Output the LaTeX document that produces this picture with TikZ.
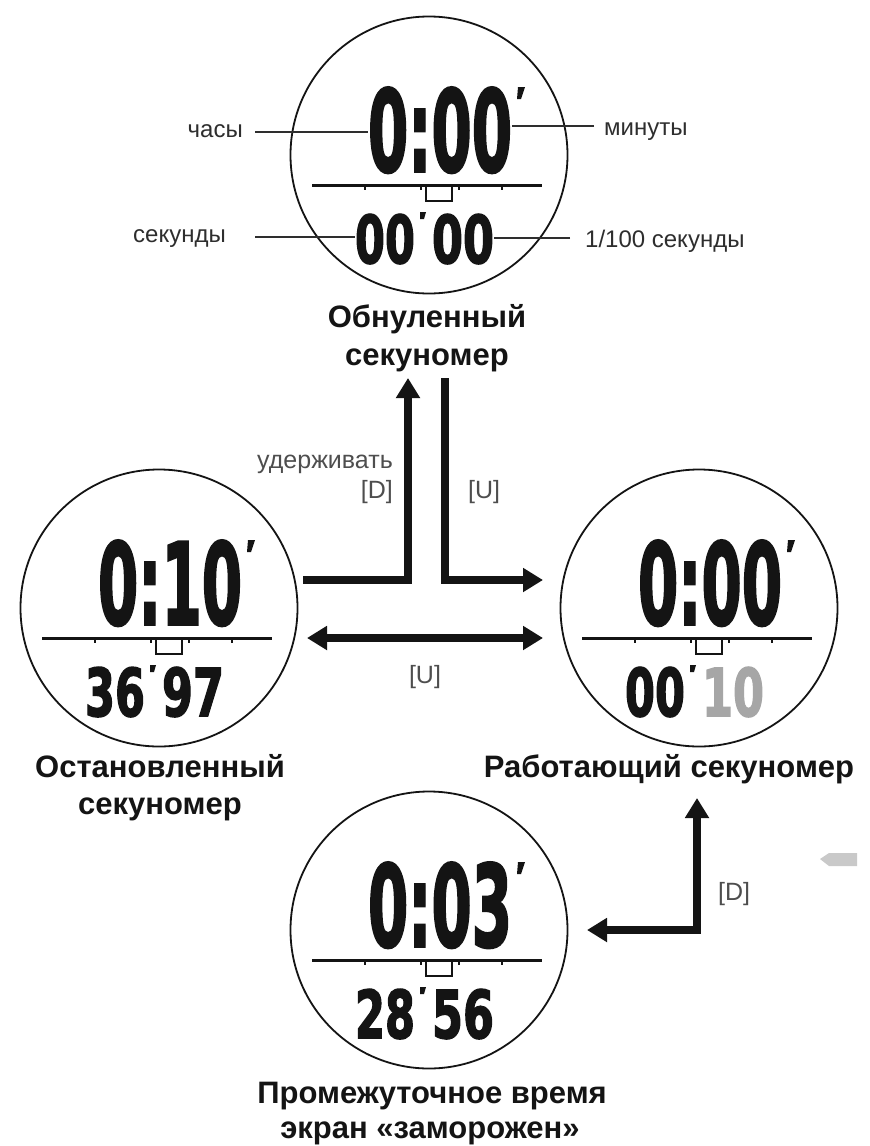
\documentclass[tikz,border=0pt]{standalone}
\usepackage{fontspec}
\usepackage{graphicx}
\setmainfont{Liberation Sans}
\newfontfamily\lcdfont{DejaVu Sans}[BoldFeatures={FakeBold=2.5}]
\usetikzlibrary{arrows.meta}
\definecolor{ink}{HTML}{141414}
\definecolor{labelgray}{HTML}{2E2E2E}
\definecolor{keygray}{HTML}{4E4E4E}
\definecolor{dimdigit}{HTML}{A6A6A6}
\definecolor{smudge}{HTML}{C9C9C9}
\tikzset{
  watchring/.style={circle, draw=ink, line width=1.8pt, minimum size=277pt, inner sep=0pt},
  lcd/.style={inner sep=0pt, outer sep=0pt, anchor=south west, text=ink},
  sepline/.style={draw=ink, line width=3pt},
  tickmark/.style={draw=ink, line width=1.4pt},
  tabbox/.style={draw=ink, line width=1.8pt},
  leader/.style={draw=labelgray, line width=2pt},
  partlabel/.style={inner sep=0pt, text=labelgray, font=\fontsize{24}{28}\selectfont},
  caption/.style={inner sep=0pt, anchor=base, text=ink, font=\bfseries\fontsize{31}{37}\selectfont},
  keylabel/.style={inner sep=0pt, anchor=base, text=keygray, font=\fontsize{25}{29}\selectfont},
  bigarrow/.style={draw=ink, line width=8.5pt, line join=miter},
  tipstyle/.style={-{Triangle[length=20pt,width=23pt]}},
}
% #1 cx, #2 cy, #3 name, #4 big digits, #5 pair 1, #6 pair 2, #7 colour of pair 2
\newcommand{\lcdwatch}[7]{%
  \node[watchring] (#3) at (#1,#2) {};
  \begin{scope}[shift={(#1,#2)}]
    \node[lcd] (#3-big) at (-61,18) {\resizebox{144pt}{84pt}{\lcdfont\bfseries #4}};
    \fill[ink] (89,-68) -- (96,-68) -- (92,-56) -- (88,-56) -- cycle;
    \draw[sepline] (-117,30) -- (113,30);
    \foreach \tx in {-64,-8,30,73} { \draw[tickmark] (\tx,30) -- (\tx,35); }
    \draw[tabbox] (-3,30) rectangle (23,46);
    \node[lcd] (#3-pa) at (-74,109) {\resizebox{60pt}{49pt}{\lcdfont\bfseries #5}};
    \fill[ink] (-9,57) -- (-3,57) -- (-5,64) -- (-9,64) -- cycle;
    \node[lcd, text=#7] (#3-pb) at (3,109) {\resizebox{62pt}{49pt}{\lcdfont\bfseries #6}};
  \end{scope}
}
\begin{document}
\begin{tikzpicture}[x=1pt,y=-1pt]
\fill[white] (0,0) rectangle (870,1146);
\useasboundingbox (0,0) rectangle (870,1146);

% watches
\lcdwatch{429}{155}{wt}{0:00}{00}{00}{ink}
\lcdwatch{159}{608}{wl}{0:10}{36}{97}{ink}
\lcdwatch{699}{608}{wr}{0:00}{00}{10}{dimdigit}
\lcdwatch{429}{930}{wb}{0:03}{28}{56}{ink}

% part labels of the top watch
\node[partlabel, anchor=base east] (lh) at (243,137) {часы};
\node[partlabel, anchor=base west] (lm) at (604,135) {минуты};
\node[partlabel, anchor=base east] (ls) at (226,242) {секунды};
\node[partlabel, anchor=base west] (lc) at (585,247) {1/100 секунды};
\draw[leader] (lh.east |- 0,132) ++(12,0) -- (wt-big.west |- 0,132);
\draw[leader] (lm.west |- 0,126) ++(-10,0) -- (wt-big.east |- 0,126);
\draw[leader] (ls.east |- 0,237) ++(29,0) -- (wt-pa.west |- 0,237);
\draw[leader] (lc.west |- 0,238) ++(-15,0) -- (wt-pb.east |- 0,238);

% captions
\node[caption] (ct1) at (427,327) {Обнуленный};
\node[caption] (ct2) at (427,365) {секуномер};
\node[caption] (cl1) at (160,777) {Остановленный};
\node[caption] (cl2) at (160,814) {секуномер};
\node[caption] (cr1) at (669,777) {Работающий секуномер};
\node[caption] (cb1) at (432,1103) {Промежуточное время};
\node[caption] (cb2) at (430,1138) {экран «заморожен»};

% connector ends
\coordinate (hA) at (303,580);
\coordinate (hB) at (408,378);
\coordinate (uA) at (445,378);
\coordinate (uB) at (543,580);
\coordinate (dA) at (307,638);
\coordinate (dB) at (543,638);
\coordinate (sA) at (697,798);
\coordinate (sB) at (587,930);

\draw[bigarrow, tipstyle] (hA) -| (hB);
\draw[bigarrow, tipstyle] (uA) |- (uB);
\draw[bigarrow, {Triangle[length=20pt,width=23pt]}-{Triangle[length=20pt,width=23pt]}] (dA) -- (dB);
\draw[bigarrow, {Triangle[length=20pt,width=23pt]}-{Triangle[length=20pt,width=23pt]}] (sA) |- (sB);

% key labels
\node[keylabel, anchor=base east] (k1) at (393,468) {удерживать};
\node[keylabel, anchor=base east] (k2) at (393,498) {[D]};
\node[keylabel, anchor=base west] (k3) at (468,498) {[U]};
\node[keylabel] (k4) at (425,683) {[U]};
\node[keylabel, anchor=base west] (k5) at (718,900) {[D]};

% small grey smudge at the right
\fill[smudge] (820,859) -- (829,853) -- (857,853) -- (857,866) -- (829,866) -- cycle;
\end{tikzpicture}
\end{document}
